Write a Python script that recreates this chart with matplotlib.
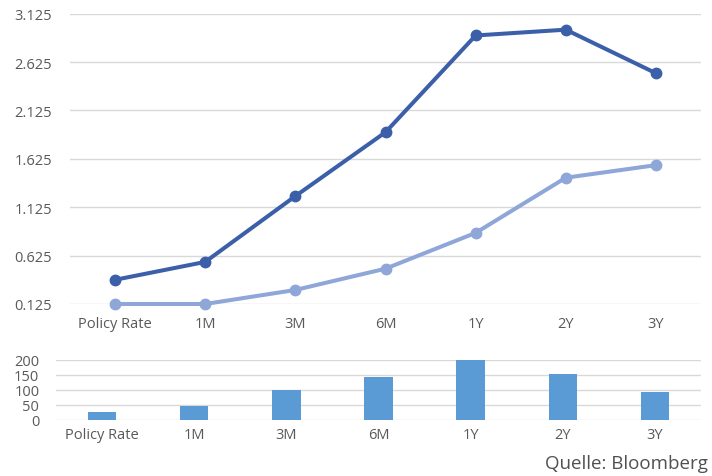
import numpy as np
import matplotlib
matplotlib.use("Agg")
import matplotlib.pyplot as plt

# data
categories = ["Policy Rate", "1M", "3M", "6M", "1Y", "2Y", "3Y"]
yield_dark = [0.375, 0.56, 1.24, 1.90, 2.90, 2.96, 2.51]
yield_light = [0.125, 0.125, 0.27, 0.49, 0.86, 1.43, 1.56]
spread_bp = [25, 45, 99, 141, 201, 153, 91]

line_ticks = [0.125, 0.625, 1.125, 1.625, 2.125, 2.625, 3.125]
bar_ticks = [0, 50, 100, 150, 200]

dark_col = "#3B5FA8"
light_col = "#8FA6D8"
bar_col = "#5B9BD5"
grid_col = "#D9D9D9"
text_col = "#595959"

plt.rcParams["font.family"] = ["Open Sans", "DejaVu Sans"]

W, H = 712, 477
fig = plt.figure(figsize=(W / 100, H / 100), dpi=100)

x = np.arange(len(categories))

# upper chart: yield curves
ax1 = fig.add_axes([70 / W, 1 - 305 / H, (701 - 70) / W, (305 - 14.7) / H])
ax1.plot(x, yield_light, color=light_col, lw=2.9, marker="o", ms=7.5, clip_on=False, zorder=3)
ax1.plot(x, yield_dark, color=dark_col, lw=2.9, marker="o", ms=7.5, clip_on=False, zorder=4)
ax1.set_xlim(-0.5, len(categories) - 0.5)
ax1.set_ylim(0.125, 3.125)
ax1.set_yticks(line_ticks)
ax1.set_yticklabels([f"{t:.3f}" for t in line_ticks])
ax1.set_xticks(x)
ax1.set_xticklabels(categories)
ax1.grid(axis="y", color=grid_col, lw=1)
ax1.set_axisbelow(True)
for s in ax1.spines.values():
    s.set_visible(False)
ax1.tick_params(axis="both", length=0, labelsize=10.5, labelcolor=text_col)
ax1.tick_params(axis="y", pad=13)
ax1.tick_params(axis="x", pad=8.5)

# lower chart: spread bars
ax2 = fig.add_axes([56 / W, 1 - 420.7 / H, (701 - 56) / W, 60 / H])
ax2.bar(x, spread_bp, width=0.31, color=bar_col, zorder=3)
ax2.set_xlim(-0.5, len(categories) - 0.5)
ax2.set_ylim(0, 200)
ax2.set_yticks(bar_ticks)
ax2.set_xticks(x)
ax2.set_xticklabels(categories)
ax2.grid(axis="y", color=grid_col, lw=1)
ax2.set_axisbelow(True)
for s in ax2.spines.values():
    s.set_visible(False)
ax2.tick_params(axis="both", length=0, labelsize=10.5, labelcolor=text_col)
ax2.tick_params(axis="y", pad=12)
ax2.tick_params(axis="x", pad=5.5)

fig.text(708 / W, 1 - 464 / H, "Quelle: Bloomberg", fontsize=13.5, color="#505050",
         ha="right", va="center")

fig.savefig("out.png", dpi=100)
